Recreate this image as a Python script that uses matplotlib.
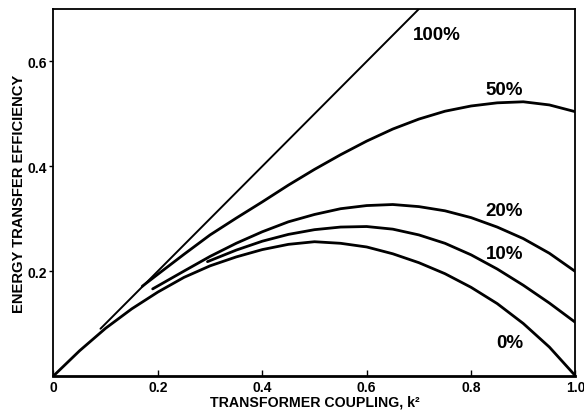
import numpy as np
import matplotlib
matplotlib.use("Agg")
import matplotlib.pyplot as plt

plt.rcParams["font.family"] = ["Liberation Sans", "DejaVu Sans"]
plt.rcParams["font.weight"] = "bold"

# ─── Data ─────────────────────────────────────────────────────────────────────
k2_100 = [0.09, 0.70]
eff_100 = [0.09, 0.70]

k2_50 = [0.17, 0.20, 0.25, 0.30, 0.35, 0.40, 0.45, 0.50, 0.55, 0.60,
         0.65, 0.70, 0.75, 0.80, 0.85, 0.90, 0.95, 1.00]
eff_50 = [0.171, 0.194, 0.232, 0.269, 0.301, 0.332, 0.364, 0.394, 0.422, 0.448,
          0.471, 0.490, 0.505, 0.515, 0.521, 0.523, 0.517, 0.504]

k2_20 = [0.19, 0.25, 0.30, 0.35, 0.40, 0.45, 0.50, 0.55, 0.60,
         0.65, 0.70, 0.75, 0.80, 0.85, 0.90, 0.95, 1.00]
eff_20 = [0.166, 0.200, 0.228, 0.253, 0.275, 0.294, 0.308, 0.319, 0.325,
          0.327, 0.323, 0.315, 0.302, 0.284, 0.262, 0.234, 0.199]

k2_10 = [0.295, 0.35, 0.40, 0.45, 0.50, 0.55, 0.60,
         0.65, 0.70, 0.75, 0.80, 0.85, 0.90, 0.95, 1.00]
eff_10 = [0.218, 0.240, 0.257, 0.270, 0.279, 0.284, 0.285,
          0.280, 0.269, 0.253, 0.231, 0.204, 0.173, 0.139, 0.102]

k2_0 = [0.00, 0.05, 0.10, 0.15, 0.20, 0.25, 0.30, 0.35, 0.40, 0.45, 0.50,
        0.55, 0.60, 0.65, 0.70, 0.75, 0.80, 0.85, 0.90, 0.95, 1.00]
eff_0 = [0.000, 0.048, 0.091, 0.128, 0.160, 0.188, 0.210, 0.227, 0.241, 0.251, 0.256,
         0.253, 0.246, 0.233, 0.216, 0.195, 0.169, 0.138, 0.100, 0.055, 0.000]

LABELS = ["100%", "50%", "20%", "10%", "0%"]

# ─── Plot ─────────────────────────────────────────────────────────────────────
fig = plt.figure(figsize=(5.84, 4.14), dpi=100)
ax = fig.add_axes([0.0916, 0.0896, 0.8938, 0.8862])

ax.plot(k2_100, eff_100, color="black", lw=1.4, solid_capstyle="round")
for xs, ys in [(k2_50, eff_50), (k2_20, eff_20), (k2_10, eff_10), (k2_0, eff_0)]:
    ax.plot(xs, ys, color="black", lw=2.0, solid_capstyle="round",
            solid_joinstyle="round")

# curve labels
label_pos = [(0.735, 0.652), (0.864, 0.546), (0.864, 0.316),
             (0.865, 0.233), (0.875, 0.064)]
for txt, (lx, ly) in zip(LABELS, label_pos):
    ax.text(lx, ly, txt, fontsize=13.5, fontweight="bold",
            ha="center", va="center")

ax.set_xlim(0, 1.0)
ax.set_ylim(0, 0.70)
ax.set_xticks([0, 0.2, 0.4, 0.6, 0.8, 1.0])
ax.set_xticklabels(["0", "0.2", "0.4", "0.6", "0.8", "1.0"])
ax.set_yticks([0.2, 0.4, 0.6])
ax.set_yticklabels(["0.2", "0.4", "0.6"])
ax.tick_params(axis="x", direction="in", length=4, width=1, pad=3,
               labelsize=10)
ax.tick_params(axis="y", direction="out", length=3, width=1, pad=2,
               labelsize=10)
for lab in ax.get_xticklabels() + ax.get_yticklabels():
    lab.set_fontweight("bold")

for side in ["left", "top", "right"]:
    ax.spines[side].set_linewidth(1.3)
ax.spines["bottom"].set_linewidth(2.0)

ax.set_xlabel("TRANSFORMER COUPLING, k²", fontsize=10.2,
              fontweight="bold", labelpad=0)
ax.set_ylabel("ENERGY TRANSFER EFFICIENCY", fontsize=10.6,
              fontweight="bold", labelpad=1)

plt.savefig("out.png", dpi=100)
